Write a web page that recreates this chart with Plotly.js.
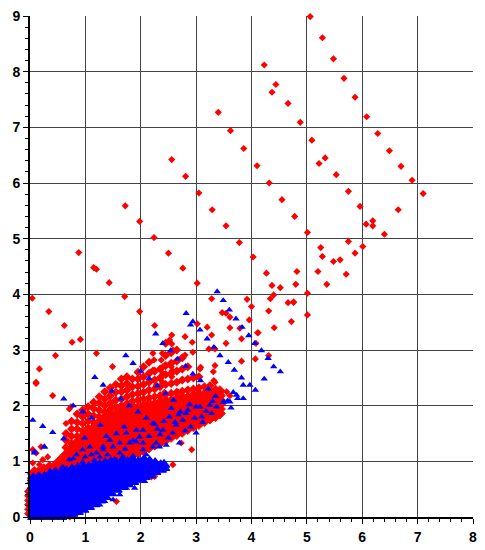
<!DOCTYPE html>
<html>
<head>
<meta charset="utf-8">
<script src="https://cdn.plot.ly/plotly-3.0.1.min.js"></script>
<style>html,body{margin:0;padding:0;background:#fff;}#chart{width:485px;height:550px;}</style>
</head>
<body>
<div id="chart"></div>
<script>
// ---------- DATA ([x, y]) ----------
// isolated red diamonds
var redSparse = [
[0.04,3.93],[0.34,3.69],[0.62,3.44],[0.76,3.14],[0.91,3.19],[1.20,2.94],[0.46,2.90],[0.17,2.66],[0.11,2.42],[0.41,2.18],[1.49,2.70],
[0.88,4.75],[1.15,4.48],[1.20,4.45],[1.43,4.21],[1.71,3.96],[1.98,3.69],[2.25,3.44],
[1.72,5.59],[1.98,5.31],[2.24,5.02],[2.50,4.74],[2.76,4.47],[3.02,4.20],[3.28,3.92],
[2.56,6.42],[2.81,6.12],[3.05,5.82],[3.29,5.52],[3.54,5.23],[3.78,4.93],[4.03,4.67],[4.27,4.38],[4.52,4.12],[4.76,3.86],[5.01,3.63],
[3.40,7.27],[3.62,6.94],[3.86,6.62],[4.10,6.31],[4.32,6.00],[4.55,5.70],[4.78,5.40],[5.01,5.11],[5.25,4.84],[5.28,4.68],[5.48,4.59],[5.60,4.62],
[4.23,8.12],[4.44,7.77],[4.37,7.63],[4.66,7.43],[4.88,7.09],[5.09,6.77],[5.33,6.45],[5.22,6.35],[5.53,6.15],[5.75,5.85],[5.96,5.58],[6.19,5.32],[6.07,5.26],[6.19,5.23],[6.40,5.08],
[5.06,8.99],[5.28,8.61],[5.48,8.23],[5.67,7.88],[5.87,7.54],[6.08,7.19],[6.28,6.89],[6.49,6.58],[6.70,6.30],[6.90,6.05],[7.10,5.81],[6.65,5.52],
[5.75,4.95],[6.01,4.86],[5.87,4.74],[4.82,4.41],[5.20,4.41],[5.71,4.36],[4.37,4.16],[4.80,4.18],[5.36,4.18],[5.01,4.02],
[3.92,3.91],[4.34,3.92],[4.40,3.99],[4.00,3.78],[4.66,3.85],[4.76,3.86],[4.31,3.70],[3.96,3.54],[4.72,3.51],[4.41,3.40],
[3.47,3.67],[3.54,3.66],[3.61,3.59],[3.61,3.40],[3.79,3.39],[3.82,3.20],[3.54,3.12],[3.82,2.80],[3.31,2.61],[3.34,2.42],[3.32,2.45],[3.61,2.18],[3.55,2.25],
[3.28,3.27],[3.20,3.41],[3.02,3.47],[2.93,3.14],[2.80,3.24],[2.94,2.96],[3.23,3.02],[3.34,3.02],[2.80,2.91],[3.08,2.69],[3.07,2.66],[3.34,2.72],
[2.56,3.27],[2.52,3.18],[2.56,3.11],[2.58,3.00],[2.22,2.94],[2.39,2.94],[2.24,2.82],[2.37,2.82],[2.40,2.70],[2.55,2.70],[2.57,2.63],[2.40,2.58],[2.56,2.52],[2.22,2.64],[2.39,2.43],[2.28,2.37],[2.43,2.24],[2.67,2.25],
[4.11,3.31],[4.08,3.12],[4.07,2.84],[4.31,2.90],[4.12,3.31],
[0.11,2.40],[0.65,1.68],[0.71,1.94],[0.74,1.98],[0.05,1.21],[0.20,1.26],[0.11,1.15],[0.05,0.97],[0.08,0.85],[0.17,0.94],[0.23,1.03],[0.32,1.08],
[0.72,0.00],[0.78,0.02],[1.56,0.28],[2.10,0.73],[2.25,0.73],[2.19,0.72],[2.58,0.94],[2.92,1.21],[2.73,1.33]
];
// dense red wedge: [x, [y values]]
var redWedge = [
[0.00,[0.06,0.14,0.22,0.30,0.38,0.46]],
[0.05,[0.62,0.70,0.78]],
[0.15,[0.64,0.72,0.80]],
[0.25,[0.64,0.72,0.80,0.86]],
[0.35,[0.66,0.74,0.82,0.90]],
[0.45,[0.68,0.76,0.84,0.92]],
[0.55,[0.70,0.78,0.86,0.94,1.02]],
[0.65,[0.72,0.80,0.88,0.96,1.04,1.12]],
[0.75,[0.74,0.82,0.90,0.98,1.06,1.14,1.22]],
[0.85,[0.78,0.86,0.94,1.02,1.10,1.18,1.26,1.34]],
[0.95,[0.82,0.90,0.98,1.06,1.14,1.22,1.30,1.38,1.45]],
[1.05,[0.86,0.94,1.02,1.10,1.18,1.26,1.34,1.42,1.50]],
[1.15,[0.88,0.96,1.04,1.12,1.20,1.28,1.36,1.44,1.52,1.60]],
[1.25,[0.90,0.98,1.06,1.14,1.22,1.30,1.38,1.46,1.54,1.62,1.70]],
[1.35,[0.92,1.00,1.08,1.16,1.24,1.32,1.40,1.48,1.56,1.64,1.72,1.78]],
[1.45,[0.94,1.02,1.10,1.18,1.26,1.34,1.42,1.50,1.58,1.66,1.74,1.82]],
[1.55,[0.97,1.05,1.13,1.21,1.29,1.37,1.45,1.53,1.61,1.69,1.77,1.85]],
[1.65,[1.02,1.10,1.18,1.26,1.34,1.42,1.50,1.58,1.66,1.74,1.82,1.90]],
[1.75,[1.06,1.14,1.22,1.30,1.38,1.46,1.54,1.62,1.70,1.78,1.86,1.94]],
[1.85,[1.11,1.19,1.27,1.35,1.43,1.51,1.59,1.67,1.75,1.83,1.91,1.98]],
[1.95,[1.16,1.24,1.32,1.40,1.48,1.56,1.64,1.72,1.80,1.88,1.96]],
[2.05,[1.20,1.28,1.36,1.44,1.52,1.60,1.68,1.76,1.84,1.92,2.00]],
[2.15,[1.25,1.33,1.41,1.49,1.57,1.65,1.73,1.81,1.89,1.97,2.03]],
[2.25,[1.30,1.38,1.46,1.54,1.62,1.70,1.78,1.86,1.94,2.02]],
[2.35,[1.34,1.42,1.50,1.58,1.66,1.74,1.82,1.90,1.98,2.06]],
[2.45,[1.39,1.47,1.55,1.63,1.71,1.79,1.87,1.95,2.03,2.09]],
[2.55,[1.44,1.52,1.60,1.68,1.76,1.84,1.92,2.00,2.08]],
[2.65,[1.49,1.57,1.65,1.73,1.81,1.89,1.97,2.05,2.12]],
[2.75,[1.53,1.61,1.69,1.77,1.85,1.93,2.01,2.09,2.15]],
[2.85,[1.58,1.66,1.74,1.82,1.90,1.98,2.06,2.14]],
[2.95,[1.63,1.71,1.79,1.87,1.95,2.03,2.11,2.18]],
[3.05,[1.67,1.75,1.83,1.91,1.99,2.07,2.15,2.21]],
[3.15,[1.72,1.80,1.88,1.96,2.04,2.12,2.20]],
[3.25,[1.77,1.85,1.93,2.01,2.09,2.17,2.24]],
[3.35,[1.81,1.89,1.97,2.05,2.13,2.21,2.27]],
[3.43,[1.86,1.94,2.02,2.10,2.18,2.26]]
];
// red fan above the wedge: [x, [y values]]
var redFan = [
[0.65,[1.25,1.38,1.50]],
[0.75,[1.32,1.45,1.58,1.72]],
[0.85,[1.45,1.58,1.70,1.85]],
[0.95,[1.55,1.68,1.80,1.92]],
[1.05,[1.60,1.72,1.85,1.98]],
[1.15,[1.70,1.82,1.95,2.06]],
[1.25,[1.80,1.92,2.05,2.16]],
[1.35,[1.88,2.00,2.12,2.25]],
[1.45,[1.93,2.05,2.18,2.32]],
[1.55,[1.98,2.10,2.24,2.38]],
[1.65,[2.00,2.12,2.25,2.36,2.48]],
[1.75,[2.04,2.16,2.28,2.40,2.52]],
[1.85,[2.08,2.20,2.34,2.48]],
[1.95,[2.10,2.22,2.35,2.48,2.60]],
[2.05,[2.12,2.24,2.38,2.52,2.70]],
[2.15,[2.14,2.28,2.42,2.58,2.78]],
[2.25,[2.16,2.30,2.46,2.62]],
[2.35,[2.18,2.34,2.50,2.66]],
[2.45,[2.20,2.38,2.56,2.72,2.90,3.12]],
[2.55,[2.22,2.40,2.58,2.76,2.95]],
[2.65,[2.24,2.42,2.62,2.80,3.00]],
[2.75,[2.26,2.46,2.66,2.86]],
[2.85,[2.28,2.48,2.70]],
[2.95,[2.30,2.50]],
[3.05,[2.32,2.52]],
[3.15,[2.34]],
[3.25,[2.36]]
];
// dense blue band: [x, [y values]]
var blueBand = [
[-0.10,[0.00]],[-0.04,[0.00]],
[0.06,[0.00,0.08,0.16,0.24,0.32,0.40,0.48,0.56,0.64,0.70]],
[0.16,[0.00,0.08,0.16,0.24,0.32,0.40,0.48,0.56,0.64,0.72]],
[0.26,[0.00,0.08,0.16,0.24,0.32,0.40,0.48,0.56,0.64,0.72]],
[0.36,[0.00,0.08,0.16,0.24,0.32,0.40,0.48,0.56,0.64,0.72,0.78]],
[0.46,[0.00,0.08,0.16,0.24,0.32,0.40,0.48,0.56,0.64,0.72,0.80]],
[0.56,[0.00,0.08,0.16,0.24,0.32,0.40,0.48,0.56,0.64,0.72,0.80]],
[0.66,[0.03,0.11,0.19,0.27,0.35,0.43,0.51,0.59,0.67,0.75,0.83]],
[0.76,[0.06,0.14,0.22,0.30,0.38,0.46,0.54,0.62,0.70,0.78,0.86]],
[0.86,[0.09,0.17,0.25,0.33,0.41,0.49,0.57,0.65,0.73,0.81,0.88]],
[0.96,[0.13,0.21,0.29,0.37,0.45,0.53,0.61,0.69,0.77,0.85,0.90]],
[1.06,[0.18,0.26,0.34,0.42,0.50,0.58,0.66,0.74,0.82,0.90]],
[1.16,[0.23,0.31,0.39,0.47,0.55,0.63,0.71,0.79,0.87,0.93]],
[1.26,[0.30,0.38,0.46,0.54,0.62,0.70,0.78,0.86,0.94]],
[1.36,[0.36,0.44,0.52,0.60,0.68,0.76,0.84,0.92,0.97]],
[1.46,[0.43,0.51,0.59,0.67,0.75,0.83,0.91,0.99]],
[1.56,[0.49,0.57,0.65,0.73,0.81,0.89,0.97]],
[1.66,[0.54,0.62,0.70,0.78,0.86,0.94,1.01]],
[1.76,[0.59,0.67,0.75,0.83,0.91,0.99]],
[1.86,[0.63,0.71,0.79,0.87,0.95,1.03]],
[1.96,[0.67,0.75,0.83,0.91,0.99]],
[2.06,[0.72,0.80,0.88,0.96,1.03]],
[2.16,[0.76,0.84,0.92,1.00]],
[2.26,[0.81,0.89,0.97]],
[2.36,[0.85,0.93]],
[2.42,[0.88,0.94]]
];
// isolated blue triangles
var blueSparse = [
[3.38,4.05],[3.49,3.89],[3.60,3.72],[3.72,3.56],[3.83,3.41],[3.95,3.26],[4.06,3.12],[4.18,2.99],[4.30,2.85],[4.40,2.70],[4.52,2.61],
[2.82,3.66],[2.90,3.45],[2.94,3.51],[3.07,3.36],[3.20,3.20],[3.32,3.05],[3.43,2.90],[3.58,2.78],[3.69,2.64],[3.82,2.50],[3.85,2.37],[3.97,2.37],[4.07,2.28],[4.23,2.48],
[2.27,3.29],[2.40,3.12],[2.54,2.99],[2.67,2.84],[2.81,2.71],[2.94,2.57],[3.08,2.45],[3.22,2.30],[3.35,2.17],[3.50,2.07],[3.63,1.96],
[1.73,2.90],[1.86,2.76],[2.00,2.62],[2.15,2.49],[2.30,2.36],[2.45,2.22],[2.59,2.10],[2.72,1.89],[2.85,1.92],[3.00,1.98],[2.97,1.78],
[1.17,2.51],[1.32,2.37],[1.48,2.26],[1.64,2.12],[1.79,2.00],[1.95,1.89],[2.10,1.78],[2.25,1.67],[2.52,1.80],[2.64,1.65],
[0.61,2.12],[0.78,2.00],[0.95,1.89],[1.11,1.78],[1.27,1.65],
[0.05,1.74],[0.23,1.63],[0.41,1.52],[0.61,1.41],[0.08,1.17],[0.26,1.26],[0.08,1.15],
[3.61,2.07],[3.73,2.19],[3.85,2.13],[3.67,2.24],[3.75,2.13],[3.57,2.09],[3.49,2.06],
[0.95,0.99],[1.11,1.12],[1.26,1.08],[1.32,1.26],[1.44,1.38],[1.62,1.33],[1.74,1.51],[1.86,1.38],[1.92,1.56],[2.04,1.56],[2.22,1.68],[2.40,1.56],
[2.76,1.74],[2.82,1.86],[3.07,1.98],[3.10,1.80],[3.25,2.01],[3.37,1.98],[1.53,1.04],[1.68,1.08],[1.86,1.10],[2.10,1.12],[2.28,1.33],
[2.46,1.29],[2.70,1.33],[3.00,1.51],[2.58,1.51],[2.04,1.33],[0.99,1.42],
[0.59,0.90],[0.71,1.03],[0.84,1.12],[0.95,1.21],[1.08,1.26],[1.20,1.15],[1.32,1.21],[1.50,1.26],[1.62,1.15],[1.80,1.33],[1.92,1.35],
[2.04,1.21],[2.22,1.26],[2.34,1.26],[0.47,0.81],[0.26,1.26],
[1.38,1.45],[1.56,1.50],[1.70,1.62],[2.15,1.45],[2.35,1.48],[2.62,1.70],[2.90,1.62],[3.18,1.90],[3.30,2.08],[2.55,1.95],[2.88,2.02],
[0.78,1.05],[1.00,1.08],[1.16,1.02],[1.40,1.12],[1.72,1.22],[1.98,1.44],[2.30,1.58],[2.50,1.42],[2.80,1.55],[3.12,1.70],[3.28,1.86],[2.68,1.84],[2.42,1.72],
[1.05,0.25],[1.26,0.22],[1.35,0.28],[1.50,0.31],[1.44,0.43],[1.62,0.40],[1.74,0.52],[1.89,0.52],[2.07,0.64],[2.22,0.72],[0.65,0.04]
];
var xTicks = [0,1,2,3,4,5,6,7,8];
var yTicks = [0,1,2,3,4,5,6,7,8,9];

// ---------- build traces ----------
function fromPairs(p){return {x:p.map(function(d){return d[0];}), y:p.map(function(d){return d[1];})};}
function fromCols(c){var x=[],y=[];c.forEach(function(col){col[1].forEach(function(v){x.push(col[0]);y.push(v);});});return {x:x,y:y};}
var RED='rgb(255,0,0)', BLUE='rgb(0,0,255)';
var rs=fromPairs(redSparse), rw=fromCols(redWedge), rf=fromCols(redFan), bb=fromCols(blueBand), bs=fromPairs(blueSparse);
function tr(d,sym,col,size,lw){return {type:'scatter',mode:'markers',x:d.x,y:d.y,cliponaxis:false,hoverinfo:'none',
  marker:{symbol:sym,color:col,size:size,line:{width:lw||0,color:col}}};}
var data=[
  tr(rw,'diamond',RED,8.5,0.8),
  tr(rf,'diamond',RED,7),
  tr(rs,'diamond',RED,5.5),
  tr(bb,'triangle-up',BLUE,10,1.2),
  tr(bs,'triangle-up',BLUE,6.5)
];
var tickFont={family:'Liberation Sans, Arial, sans-serif',size:14,color:'#000',weight:700};
function ax(range,ticks){return {range:range,tickmode:'array',tickvals:ticks,ticktext:ticks.map(String),
  showgrid:true,gridcolor:'#444',gridwidth:1,zeroline:false,showline:true,linecolor:'#000',linewidth:2,
  ticks:'outside',ticklen:5,tickwidth:1,tickcolor:'#000',tickfont:tickFont,fixedrange:true,
  minor:{dtick:0.2,tick0:0,ticks:'outside',ticklen:3,tickwidth:1,tickcolor:'#000',showgrid:false}};}
var layout={width:485,height:550,margin:{l:30,r:12,t:16,b:33},paper_bgcolor:'#fff',plot_bgcolor:'#fff',
  showlegend:false,xaxis:ax([0,8],xTicks),yaxis:ax([0,9],yTicks)};
layout.xaxis.ticklabelstandoff=1;
Plotly.newPlot('chart',data,layout,{staticPlot:true,displayModeBar:false});
</script>
</body>
</html>
